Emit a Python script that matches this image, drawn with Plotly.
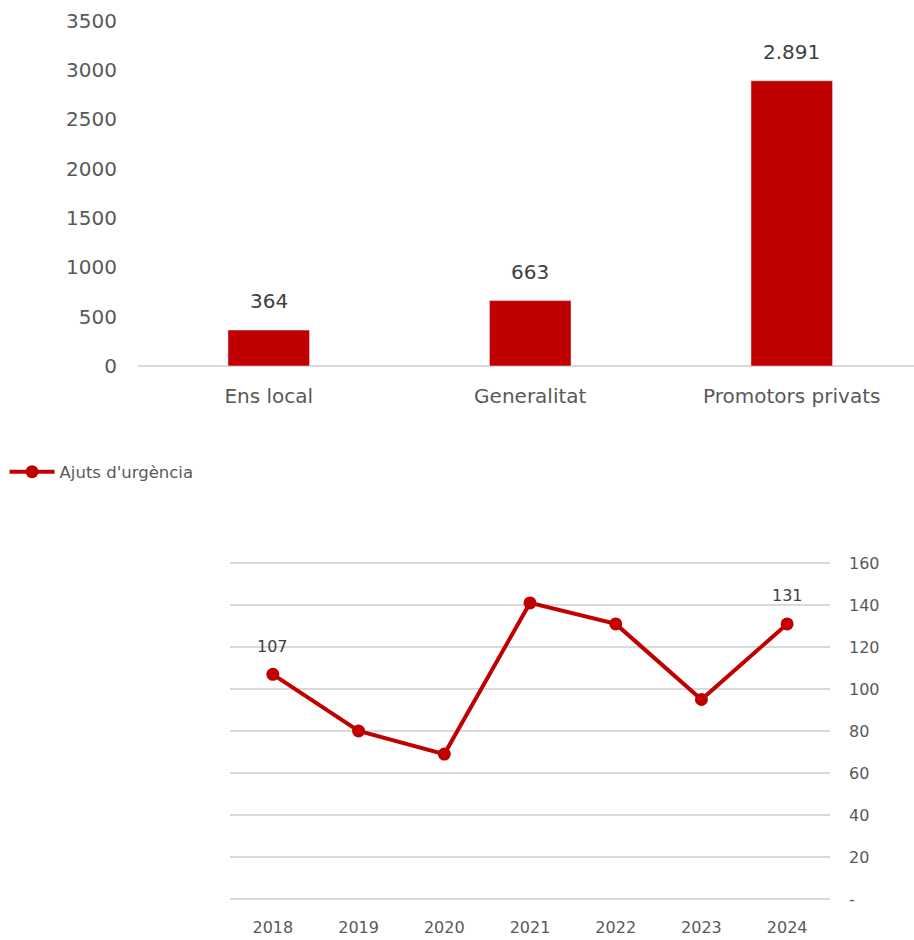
import plotly.graph_objects as go

# top chart: bars
categories = ['Ens local', 'Generalitat', 'Promotors privats']
bar_values = [364, 663, 2891]
bar_labels = ['364', '663', '2.891']

# bottom chart: line
years = ['2018', '2019', '2020', '2021', '2022', '2023', '2024']
urgencia = [107, 80, 69, 141, 131, 95, 131]
line_labels = ['107', '', '', '', '', '', '131']

y2_ticks = [0, 20, 40, 60, 80, 100, 120, 140, 160]
y2_ticktext = ['-', '20', '40', '60', '80', '100', '120', '140', '160']

RED = '#C00000'
GREY = '#595959'
GRID = '#d9d9d9'
FONT = 'DejaVu Sans'

W, H = 914, 940

fig = go.Figure()

fig.add_trace(go.Bar(x=categories, y=bar_values, marker_color=RED,
                     width=0.312, showlegend=False, xaxis='x', yaxis='y',
                     hoverinfo='skip'))

fig.add_trace(go.Scatter(x=years, y=urgencia, mode='lines+markers',
                         name="Ajuts d'urgència",
                         line=dict(color=RED, width=4),
                         marker=dict(color=RED, size=13),
                         xaxis='x2', yaxis='y2'))

annotations = []
for i, (v, t) in enumerate(zip(bar_values, bar_labels)):
    annotations.append(dict(x=i, y=v, xref='x', yref='y', text=t,
                            showarrow=False, yshift=29,
                            font=dict(size=20, color='#404040', family=FONT)))
for i, (v, t) in enumerate(zip(urgencia, line_labels)):
    if t:
        annotations.append(dict(x=i, y=v, xref='x2', yref='y2', text=t,
                                showarrow=False, yshift=28,
                                font=dict(size=16, color='#404040', family=FONT)))

# small padding so the 0 and 160 grid lines are drawn
pad = 1.5
px_per_unit = (899 - 563) / 160

fig.update_layout(
    width=W, height=H,
    margin=dict(l=0, r=0, t=0, b=0, autoexpand=False),
    paper_bgcolor='white', plot_bgcolor='white',
    font=dict(family=FONT, color=GREY),
    annotations=annotations,
    showlegend=True,
    legend=dict(x=0.005, y=1 - 472 / H, xanchor='left', yanchor='middle',
                font=dict(size=16.5, color=GREY, family=FONT),
                itemwidth=45, bgcolor='rgba(0,0,0,0)'),
    xaxis=dict(type='category', domain=[138 / W, 1],
               range=[-0.5, (W - 138) / 261.5 - 0.5],
               showgrid=False, showline=False, ticks='', automargin=False,
               tickfont=dict(size=20, color=GREY), ticklabelstandoff=16,
               fixedrange=True),
    yaxis=dict(domain=[1 - 366 / H, 1 - 20.7 / H], range=[0, 3500],
               tickvals=[0, 500, 1000, 1500, 2000, 2500, 3000, 3500],
               showgrid=False, zeroline=True, zerolinecolor=GRID, zerolinewidth=1.5,
               automargin=False,
               tickfont=dict(size=20, color=GREY), ticklabelstandoff=20,
               fixedrange=True),
    xaxis2=dict(type='category', domain=[230 / W, 830 / W], anchor='y2',
                range=[-0.5, 6.5],
                showgrid=False, showline=False, ticks='', automargin=False,
                tickfont=dict(size=16, color=GREY), ticklabelstandoff=14,
                fixedrange=True),
    yaxis2=dict(domain=[1 - (899 + pad * px_per_unit) / H,
                        1 - (563 - pad * px_per_unit) / H],
                anchor='x2', side='right',
                range=[-pad, 160 + pad], tickvals=y2_ticks, ticktext=y2_ticktext,
                showgrid=True, gridcolor=GRID, gridwidth=1.5,
                zeroline=False, showline=False, automargin=False,
                tickfont=dict(size=16, color=GREY), ticklabelstandoff=18,
                fixedrange=True),
)

fig.write_html('out.html', config={'displayModeBar': False},
               post_script="document.body.style.margin='0';")
